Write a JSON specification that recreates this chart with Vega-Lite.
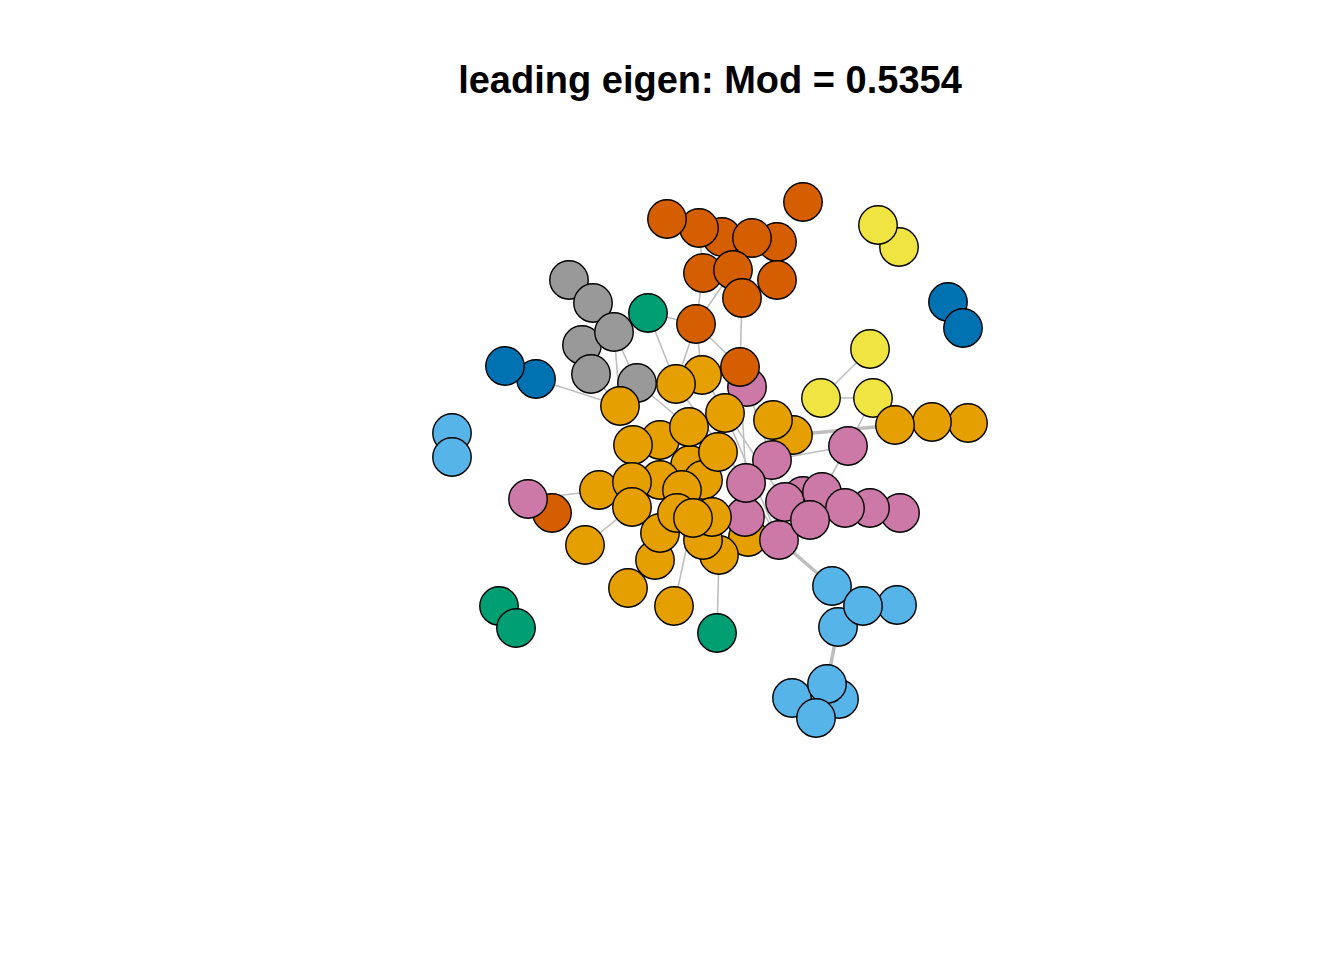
{
  "$schema": "https://vega.github.io/schema/vega-lite/v6.json",
  "width": 1344,
  "height": 830,
  "autosize": "none",
  "padding": {"top": 130, "left": 0, "right": 0, "bottom": 0},
  "background": "white",
  "config": {"view": {"stroke": null}},
  "title": {
    "text": "leading eigen: Mod = 0.5354",
    "font": "Liberation Sans",
    "fontSize": 38,
    "fontWeight": "bold",
    "color": "black",
    "anchor": "middle",
    "dx": 38,
    "offset": -1,
    "baseline": "alphabetic"
  },
  "datasets": {
    "edges": [
      {"x": 742, "y": 298, "x2": 740, "y2": 367, "weight": 1},
      {"x": 696, "y": 324, "x2": 703, "y2": 273, "weight": 1},
      {"x": 696, "y": 324, "x2": 733, "y2": 270, "weight": 1},
      {"x": 696, "y": 324, "x2": 648, "y2": 313, "weight": 1},
      {"x": 648, "y": 313, "x2": 676, "y2": 384, "weight": 1},
      {"x": 696, "y": 324, "x2": 676, "y2": 384, "weight": 1},
      {"x": 696, "y": 324, "x2": 702, "y2": 375, "weight": 1},
      {"x": 696, "y": 324, "x2": 740, "y2": 367, "weight": 1},
      {"x": 699, "y": 228, "x2": 703, "y2": 273, "weight": 1},
      {"x": 614, "y": 332, "x2": 620, "y2": 406, "weight": 1},
      {"x": 614, "y": 332, "x2": 637, "y2": 383, "weight": 1},
      {"x": 536, "y": 379, "x2": 620, "y2": 406, "weight": 1},
      {"x": 870, "y": 349, "x2": 821, "y2": 398, "weight": 1},
      {"x": 821, "y": 398, "x2": 873, "y2": 398, "weight": 1},
      {"x": 873, "y": 398, "x2": 848, "y2": 446, "weight": 1},
      {"x": 848, "y": 446, "x2": 822, "y2": 492, "weight": 1},
      {"x": 848, "y": 446, "x2": 772, "y2": 460, "weight": 1},
      {"x": 793, "y": 435, "x2": 895, "y2": 425, "weight": 2},
      {"x": 779, "y": 540, "x2": 832, "y2": 586, "weight": 2},
      {"x": 838, "y": 627, "x2": 827, "y2": 684, "weight": 2},
      {"x": 719, "y": 555, "x2": 717, "y2": 633, "weight": 1},
      {"x": 693, "y": 518, "x2": 674, "y2": 606, "weight": 1},
      {"x": 585, "y": 545, "x2": 632, "y2": 507, "weight": 1},
      {"x": 528, "y": 499, "x2": 598, "y2": 491, "weight": 1},
      {"x": 740, "y": 367, "x2": 746, "y2": 483, "weight": 1},
      {"x": 747, "y": 387, "x2": 772, "y2": 460, "weight": 1},
      {"x": 725, "y": 413, "x2": 779, "y2": 540, "weight": 1},
      {"x": 746, "y": 483, "x2": 779, "y2": 540, "weight": 1},
      {"x": 637, "y": 383, "x2": 689, "y2": 427, "weight": 1},
      {"x": 702, "y": 375, "x2": 785, "y2": 502, "weight": 1},
      {"x": 676, "y": 384, "x2": 746, "y2": 483, "weight": 1},
      {"x": 591, "y": 374, "x2": 620, "y2": 406, "weight": 1}
    ],
    "nodes": [
      {"x": 722, "y": 237, "group": "V"},
      {"x": 777, "y": 242, "group": "V"},
      {"x": 699, "y": 228, "group": "V"},
      {"x": 667, "y": 219, "group": "V"},
      {"x": 752, "y": 238, "group": "V"},
      {"x": 803, "y": 202, "group": "V"},
      {"x": 703, "y": 273, "group": "V"},
      {"x": 777, "y": 280, "group": "V"},
      {"x": 733, "y": 270, "group": "V"},
      {"x": 742, "y": 298, "group": "V"},
      {"x": 696, "y": 324, "group": "V"},
      {"x": 569, "y": 280, "group": "G"},
      {"x": 593, "y": 303, "group": "G"},
      {"x": 582, "y": 345, "group": "G"},
      {"x": 614, "y": 332, "group": "G"},
      {"x": 591, "y": 374, "group": "G"},
      {"x": 637, "y": 383, "group": "G"},
      {"x": 648, "y": 313, "group": "N"},
      {"x": 536, "y": 379, "group": "B"},
      {"x": 505, "y": 366, "group": "B"},
      {"x": 899, "y": 247, "group": "Y"},
      {"x": 878, "y": 225, "group": "Y"},
      {"x": 948, "y": 302, "group": "B"},
      {"x": 963, "y": 328, "group": "B"},
      {"x": 452, "y": 433, "group": "S"},
      {"x": 452, "y": 457, "group": "S"},
      {"x": 870, "y": 349, "group": "Y"},
      {"x": 821, "y": 398, "group": "Y"},
      {"x": 873, "y": 398, "group": "Y"},
      {"x": 968, "y": 423, "group": "O"},
      {"x": 932, "y": 422, "group": "O"},
      {"x": 895, "y": 425, "group": "O"},
      {"x": 747, "y": 387, "group": "P"},
      {"x": 740, "y": 367, "group": "V"},
      {"x": 660, "y": 440, "group": "O"},
      {"x": 690, "y": 465, "group": "O"},
      {"x": 660, "y": 480, "group": "O"},
      {"x": 703, "y": 480, "group": "O"},
      {"x": 748, "y": 537, "group": "O"},
      {"x": 702, "y": 375, "group": "O"},
      {"x": 676, "y": 384, "group": "O"},
      {"x": 620, "y": 406, "group": "O"},
      {"x": 793, "y": 435, "group": "O"},
      {"x": 773, "y": 420, "group": "O"},
      {"x": 725, "y": 413, "group": "O"},
      {"x": 689, "y": 427, "group": "O"},
      {"x": 633, "y": 445, "group": "O"},
      {"x": 718, "y": 452, "group": "O"},
      {"x": 772, "y": 460, "group": "P"},
      {"x": 848, "y": 446, "group": "P"},
      {"x": 745, "y": 517, "group": "P"},
      {"x": 779, "y": 540, "group": "P"},
      {"x": 599, "y": 490, "group": "O"},
      {"x": 632, "y": 482, "group": "O"},
      {"x": 632, "y": 507, "group": "O"},
      {"x": 585, "y": 545, "group": "O"},
      {"x": 628, "y": 588, "group": "O"},
      {"x": 674, "y": 606, "group": "O"},
      {"x": 655, "y": 560, "group": "O"},
      {"x": 660, "y": 533, "group": "O"},
      {"x": 719, "y": 555, "group": "O"},
      {"x": 703, "y": 540, "group": "O"},
      {"x": 682, "y": 490, "group": "O"},
      {"x": 677, "y": 513, "group": "O"},
      {"x": 712, "y": 517, "group": "O"},
      {"x": 693, "y": 518, "group": "O"},
      {"x": 746, "y": 483, "group": "P"},
      {"x": 803, "y": 496, "group": "P"},
      {"x": 785, "y": 502, "group": "P"},
      {"x": 822, "y": 492, "group": "P"},
      {"x": 900, "y": 513, "group": "P"},
      {"x": 870, "y": 508, "group": "P"},
      {"x": 845, "y": 508, "group": "P"},
      {"x": 810, "y": 520, "group": "P"},
      {"x": 552, "y": 513, "group": "V"},
      {"x": 528, "y": 499, "group": "P"},
      {"x": 897, "y": 605, "group": "S"},
      {"x": 838, "y": 627, "group": "S"},
      {"x": 832, "y": 586, "group": "S"},
      {"x": 863, "y": 606, "group": "S"},
      {"x": 839, "y": 699, "group": "S"},
      {"x": 792, "y": 698, "group": "S"},
      {"x": 827, "y": 684, "group": "S"},
      {"x": 816, "y": 718, "group": "S"},
      {"x": 499, "y": 606, "group": "N"},
      {"x": 516, "y": 628, "group": "N"},
      {"x": 717, "y": 633, "group": "N"}
    ]
  },
  "layer": [
    {
      "data": {"name": "edges"},
      "mark": {"type": "rule", "color": "#BEBEBE"},
      "encoding": {
        "x": {"field": "x", "type": "quantitative", "scale": {"domain": [0, 1344], "nice": false, "zero": false}, "axis": null},
        "y": {"field": "y", "type": "quantitative", "scale": {"domain": [130, 960], "nice": false, "zero": false, "reverse": true}, "axis": null},
        "x2": {"field": "x2"},
        "y2": {"field": "y2"},
        "strokeWidth": {"field": "weight", "type": "quantitative", "scale": {"domain": [1, 2], "range": [1.6, 3.6]}, "legend": null}
      }
    },
    {
      "data": {"name": "nodes"},
      "mark": {"type": "circle", "size": 1480, "stroke": "black", "strokeWidth": 1.4, "opacity": 1},
      "encoding": {
        "x": {"field": "x", "type": "quantitative", "axis": null},
        "y": {"field": "y", "type": "quantitative", "axis": null},
        "fill": {
          "field": "group",
          "type": "nominal",
          "scale": {
            "domain": ["O", "V", "G", "N", "B", "S", "Y", "P"],
            "range": ["#E69F00", "#D55E00", "#999999", "#009E73", "#0072B2", "#56B4E9", "#F0E442", "#CC79A7"]
          },
          "legend": null
        }
      }
    }
  ]
}
